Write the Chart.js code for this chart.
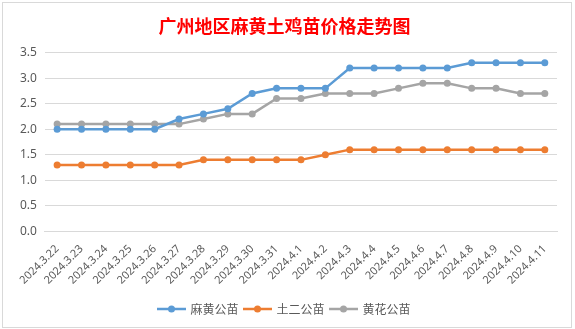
<!DOCTYPE html>
<html>
<head>
<meta charset="utf-8">
<script src="https://cdn.jsdelivr.net/npm/chart.js@4"></script>
<style>
  body { margin: 0; background: #fff; }
  #box {
    position: absolute; left: 2px; top: 2px;
    width: 568px; height: 324px;
    border: 1px solid #d9d9d9;
  }
</style>
</head>
<body>
<div id="box"><canvas id="priceChart" width="568" height="324"></canvas></div>
<script>
// dates on the x axis
const dates = [
  "2024.3.22", "2024.3.23", "2024.3.24", "2024.3.25", "2024.3.26", "2024.3.27",
  "2024.3.28", "2024.3.29", "2024.3.30", "2024.3.31", "2024.4.1", "2024.4.2",
  "2024.4.3", "2024.4.4", "2024.4.5", "2024.4.6", "2024.4.7", "2024.4.8",
  "2024.4.9", "2024.4.10", "2024.4.11"
];

// prices per series
const mahuang = [2.0, 2.0, 2.0, 2.0, 2.0, 2.2, 2.3, 2.4, 2.7, 2.8, 2.8, 2.8, 3.2, 3.2, 3.2, 3.2, 3.2, 3.3, 3.3, 3.3, 3.3];
const tuer = [1.3, 1.3, 1.3, 1.3, 1.3, 1.3, 1.4, 1.4, 1.4, 1.4, 1.4, 1.5, 1.6, 1.6, 1.6, 1.6, 1.6, 1.6, 1.6, 1.6, 1.6];
const huanghua = [2.1, 2.1, 2.1, 2.1, 2.1, 2.1, 2.2, 2.3, 2.3, 2.6, 2.6, 2.7, 2.7, 2.7, 2.8, 2.9, 2.9, 2.8, 2.8, 2.7, 2.7];

const yTicks = [0, 0.5, 1, 1.5, 2, 2.5, 3, 3.5];

// legend marker: short line with a dot in the middle
function legendMark(color) {
  const c = document.createElement("canvas");
  c.width = 29;
  c.height = 10;
  const g = c.getContext("2d");
  g.strokeStyle = color;
  g.lineWidth = 2.5;
  g.beginPath();
  g.moveTo(0, 5);
  g.lineTo(29, 5);
  g.stroke();
  g.fillStyle = color;
  g.beginPath();
  g.arc(14.5, 5, 3.5, 0, Math.PI * 2);
  g.fill();
  return c;
}

function makeSeries(label, data, color) {
  return {
    label: label,
    data: data,
    borderColor: color,
    backgroundColor: color,
    borderWidth: 2.5,
    pointRadius: 3.5,
    pointHoverRadius: 3.5,
    pointBorderWidth: 0,
    tension: 0,
    legendMark: legendMark(color),
  };
}

const ctx = document.getElementById("priceChart").getContext("2d");
new Chart(ctx, {
  type: "line",
  data: {
    labels: dates,
    datasets: [
      makeSeries("麻黄公苗", mahuang, "#5B9BD5"),
      makeSeries("土二公苗", tuer, "#ED7D31"),
      makeSeries("黄花公苗", huanghua, "#A5A5A5"),
    ],
  },
  options: {
    responsive: false,
    animation: false,
    layout: { padding: { left: 9, right: 14, top: 8, bottom: 2 } },
    plugins: {
      title: {
        display: true,
        text: "广州地区麻黄土鸡苗价格走势图",
        color: "#FF0000",
        font: { family: "'Noto Sans CJK SC'", size: 18, weight: "bold" },
        padding: { top: 4, bottom: 16 },
      },
      legend: {
        position: "bottom",
        labels: {
          color: "#595959",
          font: { family: "'Noto Sans CJK SC'", size: 12 },
          usePointStyle: true,
          pointStyleWidth: 26,
          generateLabels: (chart) =>
            Chart.defaults.plugins.legend.labels.generateLabels(chart).map((l, i) => ({
              ...l,
              pointStyle: chart.data.datasets[i].legendMark,
            })),
          boxWidth: 26,
          padding: 6,
        },
      },
      tooltip: { enabled: false },
    },
    scales: {
      x: {
        offset: true,
        grid: { display: false },
        border: { color: "#d9d9d9" },
        afterFit: (scale) => {
          scale.height += 7;
        },
        ticks: {
          color: "#595959",
          font: { family: "'Noto Sans'", size: 11 },
          minRotation: 45,
          maxRotation: 45,
          autoSkip: false,
        },
      },
      y: {
        min: 0,
        max: 3.5,
        afterBuildTicks: (scale) => {
          scale.ticks = yTicks.map((v) => ({ value: v }));
        },
        grid: { color: "#d9d9d9", drawTicks: false },
        border: { display: false },
        ticks: {
          color: "#595959",
          font: { family: "'Noto Sans'", size: 12 },
          padding: 8,
          callback: (v) => v.toFixed(1),
        },
      },
    },
  },
});
</script>
</body>
</html>
